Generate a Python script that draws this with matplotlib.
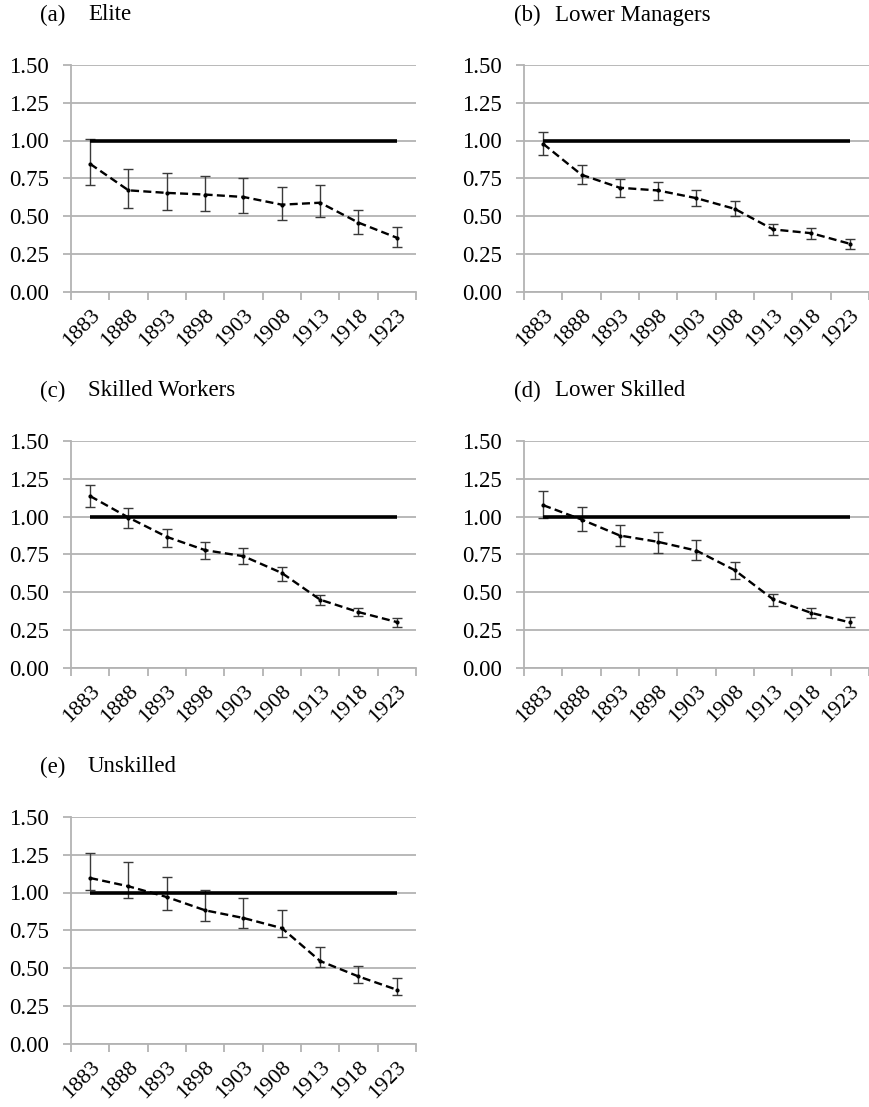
import matplotlib
matplotlib.use("Agg")
import matplotlib.pyplot as plt
from matplotlib.ticker import FixedLocator, FormatStrFormatter

plt.rcParams["font.family"] = ["Liberation Serif", "DejaVu Serif"]

years = ["1883", "1888", "1893", "1898", "1903", "1908", "1913", "1918", "1923"]
yticks = [0.00, 0.25, 0.50, 0.75, 1.00, 1.25, 1.50]
baseline = 1.00

# (a) Elite
elite_val = [0.845, 0.670, 0.653, 0.642, 0.626, 0.575, 0.588, 0.456, 0.356]
elite_lo = [0.708, 0.555, 0.542, 0.533, 0.522, 0.476, 0.493, 0.378, 0.294]
elite_hi = [1.007, 0.808, 0.785, 0.765, 0.752, 0.690, 0.706, 0.540, 0.429]

# (b) Lower Managers
lman_val = [0.978, 0.773, 0.687, 0.669, 0.618, 0.547, 0.411, 0.386, 0.316]
lman_lo = [0.901, 0.711, 0.625, 0.607, 0.563, 0.501, 0.373, 0.349, 0.283]
lman_hi = [1.053, 0.839, 0.746, 0.726, 0.673, 0.598, 0.450, 0.419, 0.347]

# (c) Skilled Workers
skw_val = [1.135, 0.993, 0.865, 0.777, 0.737, 0.626, 0.449, 0.367, 0.301]
skw_lo = [1.062, 0.927, 0.801, 0.719, 0.686, 0.575, 0.412, 0.338, 0.270]
skw_hi = [1.208, 1.058, 0.920, 0.830, 0.792, 0.668, 0.480, 0.394, 0.325]

# (d) Lower Skilled
lsk_val = [1.075, 0.980, 0.874, 0.832, 0.774, 0.644, 0.451, 0.361, 0.299]
lsk_lo = [0.993, 0.905, 0.803, 0.761, 0.710, 0.588, 0.407, 0.325, 0.268]
lsk_hi = [1.166, 1.064, 0.947, 0.900, 0.845, 0.699, 0.487, 0.394, 0.332]

# (e) Unskilled
unsk_val = [1.096, 1.041, 0.970, 0.882, 0.831, 0.764, 0.546, 0.444, 0.356]
unsk_lo = [1.019, 0.966, 0.882, 0.809, 0.764, 0.705, 0.504, 0.400, 0.318]
unsk_hi = [1.262, 1.202, 1.102, 1.014, 0.963, 0.886, 0.639, 0.513, 0.431]

panels = [
    ("(a)", "Elite", elite_val, elite_lo, elite_hi),
    ("(b)", "Lower Managers", lman_val, lman_lo, lman_hi),
    ("(c)", "Skilled Workers", skw_val, skw_lo, skw_hi),
    ("(d)", "Lower Skilled", lsk_val, lsk_lo, lsk_hi),
    ("(e)", "Unskilled", unsk_val, unsk_lo, unsk_hi),
]

W, H = 870, 1107
fig = plt.figure(figsize=(W / 100, H / 100), dpi=100)

# pixel layout of each panel: (left, top)
lefts = [71, 524, 71, 524, 71]
tops = [65, 65, 441, 441, 817]
label_x = [40, 514, 40, 514, 40]
name_x = [88, 555, 88, 555, 88]
ax_w, ax_h = 345, 226.5

GRID = "#b3b3b3"
FS = 16.5
FS_X = 16

for (tag, name, val, lo, hi), lx, ty, tx, nx in zip(panels, lefts, tops, label_x, name_x):
    ax = fig.add_axes([lx / W, 1 - (ty + ax_h) / H, ax_w / W, ax_h / H])
    x = list(range(len(years)))
    yerr = [[v - l for v, l in zip(val, lo)], [h - v for v, h in zip(val, hi)]]

    ax.errorbar(x, val, yerr=yerr, fmt="none", ecolor="#3a3a3a",
                elinewidth=1.0, capsize=3.6, capthick=1.0, zorder=3)
    ax.plot([x[0], x[-1]], [baseline, baseline], color="black", lw=2.6,
            solid_capstyle="butt", zorder=4)
    ax.plot(x, val, color="black", lw=1.7, dashes=(3.4, 1.8),
            marker="o", ms=2, zorder=5)

    ax.set_xlim(-0.5, len(years) - 0.5)
    ax.set_ylim(0, 1.5)
    ax.set_yticks(yticks)
    ax.yaxis.set_major_formatter(FormatStrFormatter("%.2f"))
    ax.grid(axis="y", color=GRID, lw=1.3, zorder=0)
    ax.set_axisbelow(True)

    ax.set_xticks(x)
    ax.set_xticklabels(years, rotation=45, ha="right", va="top",
                       rotation_mode="anchor")
    ax.xaxis.set_minor_locator(FixedLocator([i - 0.5 for i in range(len(years) + 1)]))
    ax.tick_params(axis="x", which="major", length=0, pad=10, labelsize=FS_X)
    ax.tick_params(axis="x", which="minor", length=6, width=1.3, color=GRID)
    ax.tick_params(axis="y", length=6, width=1.3, color=GRID, pad=10, labelsize=FS)

    for s in ("top", "right"):
        ax.spines[s].set_visible(False)
    for s in ("left", "bottom"):
        ax.spines[s].set_color(GRID)
        ax.spines[s].set_linewidth(1.3)

    ycen = 1 - (ty - 50) / H
    fig.text(tx / W, ycen, tag, fontsize=FS, va="center", ha="left")
    fig.text(nx / W, ycen, name, fontsize=FS, va="center", ha="left")

fig.savefig("out.png", dpi=100, facecolor="white")
